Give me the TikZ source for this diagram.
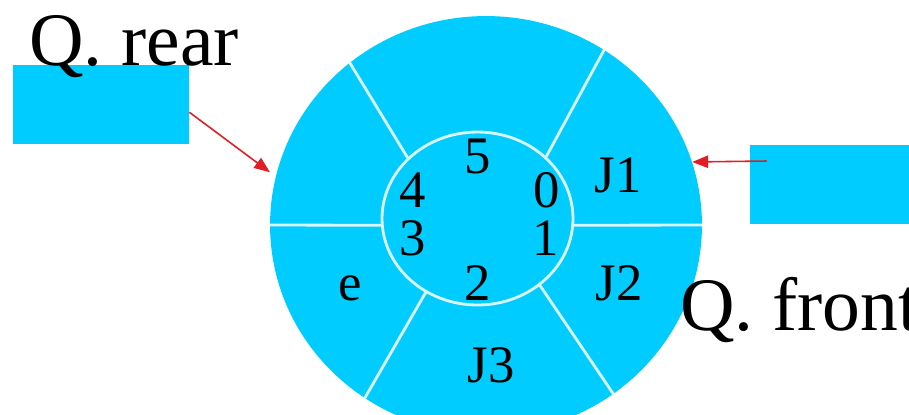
\documentclass[tikz,border=0pt]{standalone}
\usepackage{fontspec}
\setmainfont{Liberation Serif}
\usetikzlibrary{arrows.meta, shapes.geometric}
\definecolor{ringcyan}{RGB}{0,204,255}
\definecolor{ptrred}{RGB}{225,30,35}

\begin{document}
\begin{tikzpicture}[
      x=0.02cm, y=-0.02cm,
      ring/.style={
          ellipse,
          fill=ringcyan,
          inner sep=0pt,
          minimum width=8.64cm,
          minimum height=8.36cm
        },
      hub/.style={
          ellipse,
          draw=white!85!ringcyan,
          line width=1.6pt,
          inner sep=0pt,
          minimum width=3.82cm,
          minimum height=3.46cm
        },
      ptrbox/.style={
          fill=ringcyan,
          inner sep=0pt,
          minimum width=3.52cm,
          minimum height=1.58cm
        },
      spoke/.style={draw=white!85!ringcyan, line width=1.6pt},
      ptr/.style={-{Triangle[length=9pt,width=7pt]}, ptrred, line width=0.9pt},
      idx/.style={font=\fontsize{30}{30}\selectfont, inner sep=0pt, anchor=base},
      title/.style={font=\fontsize{43}{43}\selectfont, inner sep=0pt, anchor=base west}
    ]
    \useasboundingbox (0,0) rectangle (909,414);

    \node[ring] (ring) at (486,225) {};
    \node[hub] (hub) at (477.5,218.5) {};

    \draw[spoke] (hub.184) -- (ring.west);
    \draw[spoke] (hub.356) -- (ring.east);
    \draw[spoke] (hub.139) -- (ring.130);
    \draw[spoke] (hub.42) -- (ring.56);
    \draw[spoke] (hub.235) -- (ring.235);
    \draw[spoke] (hub.313) -- (ring.307);

    \node[ptrbox] (rearbox) at (101,104.5) {};
    \node[ptrbox, minimum width=3.8cm] (frontbox) at (845,184.5) {};

    \node[title] (rearlabel) at (29,65) {Q. rear};
    \node[title] (frontlabel) at (680,330) {Q. front};

    \node[idx] (slot5) at (478,173) {5};
    \node[idx] (slot0) at (547,207) {0};
    \node[idx] (slot4) at (413,207) {4};
    \node[idx] (slot3) at (413,255) {3};
    \node[idx] (slot1) at (546,255) {1};
    \node[idx] (slot2) at (478,300) {2};

    \node[idx] (elemJ1) at (618,192) {J1};
    \node[idx] (elemJ2) at (619,300) {J2};
    \node[idx] (elemJ3) at (491,382) {J3};
    \node[idx] (eleme) at (350,300) {e};

    \draw[ptr, shorten >=4pt] (rearbox.-5) -- (ring.167);
    \draw[ptr] ([xshift=0.34cm,yshift=0.47cm]frontbox.west) -- (ring.17);
  \end{tikzpicture}
\end{document}
